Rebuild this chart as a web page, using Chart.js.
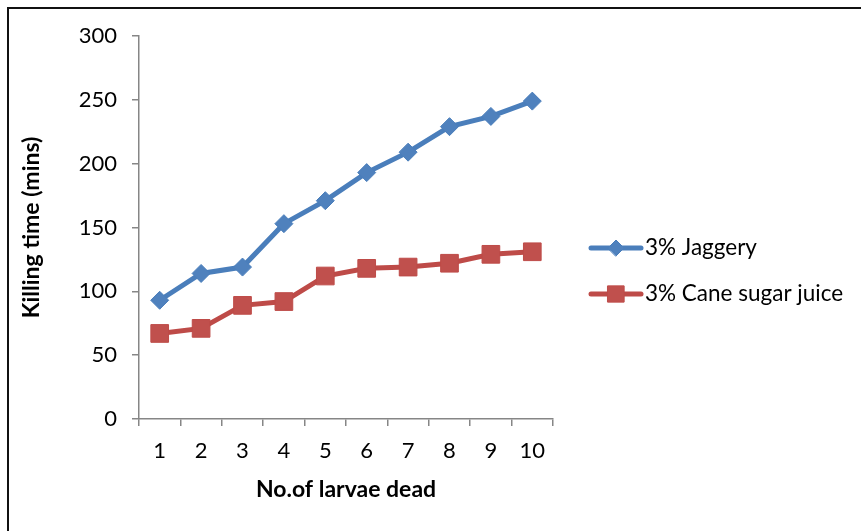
<!DOCTYPE html>
<html>
<head>
<meta charset="utf-8">
<script src="https://cdn.jsdelivr.net/npm/chart.js@4/dist/chart.umd.min.js"></script>
<style>
  html, body { margin: 0; padding: 0; background: #fff; }
  canvas { display: block; }
</style>
</head>
<body>
<canvas id="chart" width="861" height="531"></canvas>
<script>
// Number of larvae dead (category axis)
const categories = ['1', '2', '3', '4', '5', '6', '7', '8', '9', '10'];
// Killing time in minutes for each treatment
const jaggery = [93, 114, 119, 153, 171, 193, 209, 229, 237, 249];
const caneSugarJuice = [67, 71, 89, 92, 112, 118, 119, 122, 129, 131];
// Value axis ticks
const yTicks = [0, 50, 100, 150, 200, 250, 300];

const FONT = 'Lato, "Liberation Sans", sans-serif';
const AXIS_GREY = '#868686';

// Frame lines and a line+marker legend on the right side
const framePlugin = {
  id: 'frameAndLegend',
  afterDraw(chart) {
    const ctx = chart.ctx;
    ctx.save();
    ctx.fillStyle = '#111';
    ctx.fillRect(7, 7, chart.width - 7, 2);
    ctx.fillRect(7, 7, 2, chart.height - 7);

    chart.data.datasets.forEach((ds, i) => {
      const y = 248 + i * 46;
      ctx.strokeStyle = ds.borderColor;
      ctx.lineWidth = 5;
      ctx.lineCap = 'round';
      ctx.beginPath();
      ctx.moveTo(591, y);
      ctx.lineTo(641, y);
      ctx.stroke();
      ctx.fillStyle = ds.pointBackgroundColor;
      ctx.strokeStyle = ds.pointBorderColor;
      ctx.lineWidth = 1;
      Chart.helpers.drawPoint(ctx, {
        pointStyle: ds.pointStyle,
        radius: ds.pointRadius - 1,
        rotation: 0,
        borderWidth: 1
      }, 616, y);
      ctx.fillStyle = '#000';
      ctx.font = '22.5px ' + FONT;
      ctx.textBaseline = 'middle';
      ctx.textAlign = 'left';
      ctx.fillText(ds.label, 645, y);
    });
    ctx.restore();
  }
};

new Chart(document.getElementById('chart'), {
  type: 'line',
  data: {
    labels: categories,
    datasets: [
      {
        label: '3% Jaggery',
        data: jaggery,
        borderColor: '#4A7EBB',
        backgroundColor: '#4F81BD',
        pointBackgroundColor: '#4F81BD',
        pointBorderColor: '#4A7EBB',
        borderWidth: 5,
        pointStyle: 'rectRot',
        pointRadius: 9,
        pointBorderWidth: 1,
        tension: 0
      },
      {
        label: '3% Cane sugar juice',
        data: caneSugarJuice,
        borderColor: '#BE4B48',
        backgroundColor: '#C0504D',
        pointBackgroundColor: '#C0504D',
        pointBorderColor: '#BE4B48',
        borderWidth: 5,
        pointStyle: 'rect',
        pointRadius: 12.5,
        pointBorderWidth: 1,
        tension: 0
      }
    ]
  },
  options: {
    responsive: false,
    animation: false,
    devicePixelRatio: 1,
    layout: { padding: { left: 0, top: 36, right: 308, bottom: 0 } },
    plugins: {
      legend: { display: false },
      tooltip: { enabled: false }
    },
    scales: {
      x: {
        type: 'category',
        offset: true,
        grid: {
          offset: true,
          drawOnChartArea: false,
          drawTicks: true,
          tickLength: 7,
          color: AXIS_GREY,
          lineWidth: 1.5
        },
        border: { color: AXIS_GREY, width: 1.5 },
        ticks: {
          color: '#000',
          padding: 12,
          maxRotation: 0,
          font: { family: FONT, size: 22 }
        },
        title: {
          display: true,
          text: 'No.of larvae dead',
          color: '#000',
          font: { family: FONT, size: 23, weight: 'bold' },
          padding: { top: 0, bottom: 28 }
        },
        afterFit(scale) { scale.height = 112; }
      },
      y: {
        min: 0,
        max: 300,
        afterBuildTicks(scale) { scale.ticks = yTicks.map(v => ({ value: v })); },
        grid: {
          drawOnChartArea: false,
          drawTicks: true,
          tickLength: 7,
          color: AXIS_GREY,
          lineWidth: 1.5
        },
        border: { color: AXIS_GREY, width: 1.5 },
        ticks: {
          color: '#000',
          padding: 15,
          font: { family: FONT, size: 22 }
        },
        title: {
          display: true,
          text: 'Killing time (mins)',
          color: '#000',
          font: { family: FONT, size: 23, weight: 'bold' },
          padding: { top: 18, bottom: 0 }
        },
        afterFit(scale) { scale.width = 139; }
      }
    }
  },
  plugins: [framePlugin]
});
</script>
</body>
</html>
